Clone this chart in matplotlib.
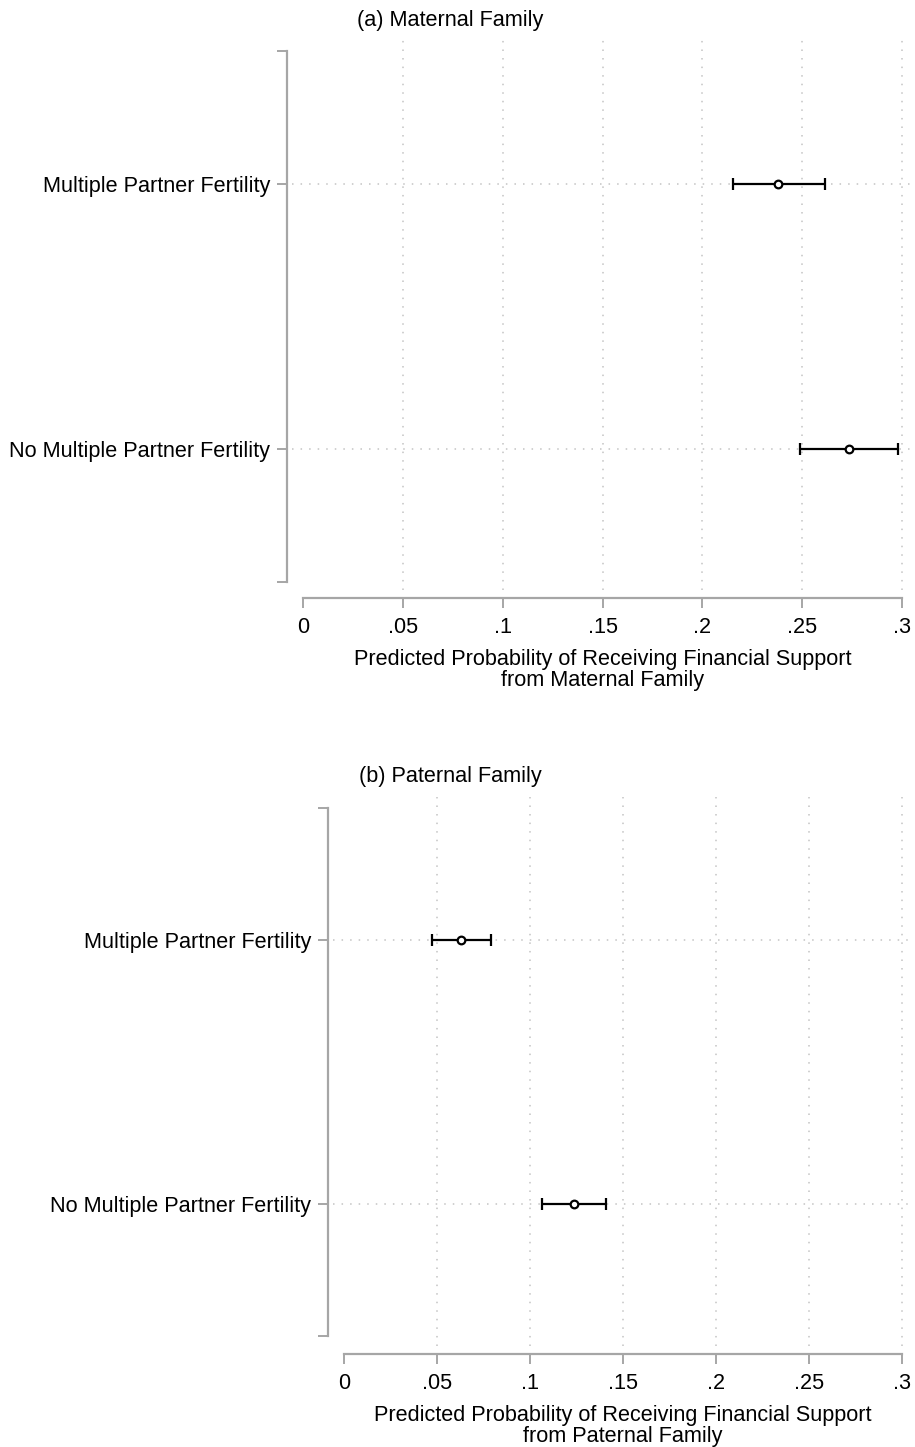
import matplotlib
matplotlib.use("Agg")
import matplotlib.pyplot as plt
import matplotlib.transforms as mtransforms

plt.rcParams['font.family'] = ['Liberation Sans', 'DejaVu Sans']

categories = ["Multiple Partner Fertility", "No Multiple Partner Fertility"]

maternal_est = [0.238, 0.2735]
maternal_lo = [0.2155, 0.249]
maternal_hi = [0.2615, 0.298]

paternal_est = [0.063, 0.1237]
paternal_lo = [0.0473, 0.1065]
paternal_hi = [0.079, 0.1409]

xticks_vals = [0, 0.05, 0.1, 0.15, 0.2, 0.25, 0.3]
xtick_labels = ["0", ".05", ".1", ".15", ".2", ".25", ".3"]

titles = ["(a) Maternal Family", "(b) Paternal Family"]
xlabels = ["Predicted Probability of Receiving Financial Support\nfrom Maternal Family",
           "Predicted Probability of Receiving Financial Support\nfrom Paternal Family"]

W, H = 915, 1447
DPI = 100
fig = plt.figure(figsize=(W / DPI, H / DPI), dpi=DPI)

spine_col = "#a6a6a6"
grid_col = "#c4c4c4"
FS = 15.6

def px_to_pt(p):
    return p * 72.0 / DPI

panels = [
    dict(left=292, right=910, top=40, bottom=590, xlim=(-0.00551, 0.3040), ylim=(2.532, 0.457),
         est=maternal_est, lo=maternal_lo, hi=maternal_hi, title_y=19),
    dict(left=333, right=910, top=797, bottom=1346, xlim=(-0.00591, 0.3043), ylim=(2.538, 0.458),
         est=paternal_est, lo=paternal_lo, hi=paternal_hi, title_y=775),
]

for i, p in enumerate(panels):
    ax = fig.add_axes([p['left'] / W, 1 - p['bottom'] / H,
                       (p['right'] - p['left']) / W, (p['bottom'] - p['top']) / H])
    ax.set_xlim(*p['xlim'])
    ax.set_ylim(*p['ylim'])
    ypos = list(range(1, len(categories) + 1))
    for xv in xticks_vals[1:]:
        ax.axvline(xv, color=grid_col, lw=1.1, ls=(0, (1, 4.6)), zorder=0)
    for yv in ypos:
        ax.axhline(yv, color=grid_col, lw=1.1, ls=(0, (1, 4.6)), zorder=0)
    xerr = [[e - l for e, l in zip(p['est'], p['lo'])],
            [h - e for e, h in zip(p['est'], p['hi'])]]
    ax.errorbar(p['est'], ypos, xerr=xerr, fmt='o', color='black', ecolor='black',
                elinewidth=1.6, capsize=4.2, capthick=1.6, markersize=5.5,
                markerfacecolor='white', markeredgecolor='black', markeredgewidth=1.6,
                zorder=3)
    ax.set_yticks(ypos)
    ax.set_yticklabels(categories)
    ax.set_yticks([0.5, 2.5], minor=True)
    ax.set_xticks(xticks_vals)
    ax.set_xticklabels(xtick_labels)
    for s in ['top', 'right']:
        ax.spines[s].set_visible(False)
    ax.spines['left'].set_position(('outward', px_to_pt(5)))
    ax.spines['bottom'].set_position(('outward', px_to_pt(8)))
    ax.spines['left'].set_bounds(0.5, 2.5)
    ax.spines['bottom'].set_bounds(0, 0.3)
    for s in ['left', 'bottom']:
        ax.spines[s].set_color(spine_col)
        ax.spines[s].set_linewidth(1.6)
    ax.tick_params(axis='both', which='both', colors=spine_col, labelcolor='black', width=1.4,
                   length=px_to_pt(10), labelsize=FS)
    ax.tick_params(axis='x', which='major', pad=px_to_pt(9))
    ax.tick_params(axis='y', which='major', pad=px_to_pt(7))
    fig.text(450 / W, 1 - (p['title_y'] + 1.5) / H, titles[i], ha='center', va='center', fontsize=FS)
    trans = mtransforms.blended_transform_factory(ax.transData, fig.transFigure)
    ax.text(0.15, 1 - (p['bottom'] + 80) / H, xlabels[i], transform=trans, ha='center',
            va='center', fontsize=FS, linespacing=1.02)

fig.savefig("out.png", dpi=DPI)
